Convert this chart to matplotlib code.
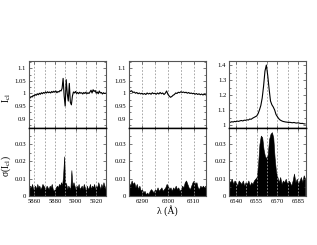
import matplotlib
matplotlib.use('Agg')
import numpy as np
import matplotlib.pyplot as plt
from matplotlib.ticker import MultipleLocator, FuncFormatter

plt.rcParams['font.family'] = ['Liberation Serif', 'DejaVu Serif']
plt.rcParams['mathtext.fontset'] = 'stix'

# Na D region
wl_na = np.arange(5855, 5930, 1)
flux_na = [0.985, 0.982, 0.988, 0.986, 0.992, 0.99, 0.996, 0.993, 0.999, 0.995,
           1.001, 0.997, 1.003, 0.999, 1.004, 1.001, 1.006, 1.002, 1.007, 1.003,
           1.006, 1.002, 1.008, 1.004, 1.009, 1.005, 1.01, 1.003, 1.008, 1.006,
           1.012, 1.01, 1.02, 1.06, 0.99, 0.95, 1.055, 1.0, 0.97, 1.04,
           0.965, 0.955, 0.99, 1.006, 1.002, 1.008, 1.0, 1.004, 0.999, 1.005,
           1.001, 1.003, 0.998, 1.004, 1.0, 1.005, 0.999, 1.003, 1.0, 1.006,
           1.013, 1.002, 1.015, 1.008, 1.012, 1.001, 1.006, 0.999, 1.01, 1.002,
           1.004, 0.998, 1.003, 1.0, 1.001]
sig_na = [0.003, 0.006, 0.005, 0.007, 0.004, 0.005, 0.006, 0.004, 0.007, 0.005,
          0.006, 0.004, 0.005, 0.007, 0.006, 0.005, 0.004, 0.006, 0.005, 0.004,
          0.006, 0.005, 0.007, 0.004, 0.003, 0.004, 0.005, 0.006, 0.005, 0.007,
          0.006, 0.008, 0.006, 0.012, 0.023, 0.008, 0.007, 0.004, 0.006, 0.005,
          0.004, 0.015, 0.006, 0.008, 0.006, 0.004, 0.006, 0.005, 0.007, 0.004,
          0.005, 0.006, 0.004, 0.007, 0.005, 0.003, 0.006, 0.004, 0.005, 0.007,
          0.004, 0.006, 0.005, 0.007, 0.004, 0.006, 0.005, 0.008, 0.006, 0.004,
          0.007, 0.005, 0.008, 0.006, 0.004]

# [OI] 6300 region
wl_oi = np.arange(6285, 6315, 0.5)
flux_oi = [1.013, 1.008, 1.011, 1.004, 1.006, 1.001, 1.004, 0.999, 1.002, 0.998,
           1.001, 0.997, 1.0, 0.996, 1.002, 0.998, 1.001, 0.997, 1.003, 0.999,
           1.001, 0.997, 1.002, 0.998, 1.004, 0.999, 1.002, 0.996, 1.001, 1.01,
           0.997, 0.99, 0.985, 0.988, 0.993, 0.996, 1.002, 1.0, 1.005, 1.003,
           1.007, 1.004, 1.006, 1.003, 1.005, 1.001, 1.004, 1.0, 1.002, 0.999,
           1.001, 0.997, 1.0, 0.996, 0.999, 0.995, 0.998, 0.994, 0.997, 0.995]
sig_oi = [0.008, 0.006, 0.009, 0.007, 0.008, 0.005, 0.007, 0.004, 0.006, 0.003,
          0.004, 0.002, 0.003, 0.001, 0.002, 0.001, 0.003, 0.004, 0.003, 0.002,
          0.004, 0.003, 0.005, 0.003, 0.004, 0.005, 0.003, 0.004, 0.005, 0.007,
          0.006, 0.004, 0.005, 0.003, 0.005, 0.004, 0.006, 0.004, 0.005, 0.003,
          0.004, 0.006, 0.005, 0.008, 0.009, 0.007, 0.005, 0.004, 0.006, 0.008,
          0.009, 0.007, 0.008, 0.005, 0.004, 0.006, 0.005, 0.006, 0.005, 0.006]

# H-alpha region
wl_ha = np.arange(6535, 6591, 1)
flux_ha = [1.02, 1.018, 1.022, 1.02, 1.024, 1.022, 1.026, 1.024, 1.028, 1.03,
           1.027, 1.032, 1.031, 1.035, 1.033, 1.04, 1.038, 1.045, 1.05, 1.055,
           1.06, 1.075, 1.1, 1.13, 1.18, 1.26, 1.36, 1.4, 1.33, 1.24,
           1.16, 1.135, 1.12, 1.1, 1.07, 1.055, 1.042, 1.033, 1.028, 1.024,
           1.022, 1.02, 1.019, 1.017, 1.018, 1.016, 1.015, 1.017, 1.014, 1.013,
           1.015, 1.012, 1.01, 1.011, 1.008, 1.007]
sig_ha = [0.009, 0.008, 0.01, 0.007, 0.009, 0.008, 0.006, 0.009, 0.008, 0.007,
          0.009, 0.006, 0.008, 0.007, 0.009, 0.006, 0.008, 0.007, 0.009, 0.01,
          0.011, 0.018, 0.03, 0.035, 0.034, 0.027, 0.023, 0.022, 0.024, 0.033,
          0.036, 0.037, 0.034, 0.022, 0.014, 0.011, 0.008, 0.011, 0.007, 0.009,
          0.008, 0.01, 0.007, 0.009, 0.008, 0.006, 0.009, 0.013, 0.008, 0.01,
          0.007, 0.009, 0.011, 0.008, 0.012, 0.01]

panels = [
    (wl_na, flux_na, sig_na, (5855, 5929), 20, 10, (0.863, 1.129), 0.05, 0.025),
    (wl_oi, flux_oi, sig_oi, (6285, 6314.5), 10, 5, (0.863, 1.129), 0.05, 0.025),
    (wl_ha, flux_ha, sig_ha, (6535, 6590.3), 15, 7.5, (0.98, 1.427), 0.1, 0.05),
]
lefts = [29 / 317, 129 / 317, 229 / 317]
width = 76.5 / 317

def fmt(v, pos):
    s = f"{v:.3f}".rstrip('0').rstrip('.')
    return s

fig = plt.figure(figsize=(3.17, 2.45), dpi=100)
for i, (wl, fl, sg, xl, xmaj, xmin, yl, ymaj, ymin) in enumerate(panels):
    ax_top = fig.add_axes([lefts[i], 117 / 245, width, 67 / 245])
    ax_bot = fig.add_axes([lefts[i], 49 / 245, width, 68 / 245], sharex=ax_top)

    ax_top.plot(wl, fl, color='k', lw=0.8)
    ax_top.set_ylim(*yl)
    ax_top.yaxis.set_major_locator(MultipleLocator(ymaj))
    ax_top.yaxis.set_minor_locator(MultipleLocator(ymin))

    ax_bot.fill_between(wl, 0, sg, color='k', lw=0.4, edgecolor='k')
    ax_bot.set_ylim(0, 0.0394)
    ax_bot.yaxis.set_major_locator(MultipleLocator(0.01))
    ax_bot.yaxis.set_minor_locator(MultipleLocator(0.005))
    ax_bot.set_xlim(*xl)
    ax_bot.xaxis.set_major_locator(MultipleLocator(xmaj))
    ax_bot.xaxis.set_minor_locator(MultipleLocator(xmin))

    for ax in (ax_top, ax_bot):
        ax.grid(True, which='both', axis='x', color='#999999', ls=(0, (2, 2)), lw=0.6)
        ax.tick_params(which='both', direction='in', top=True, right=True,
                       labelsize=4.8, pad=2, width=0.5, color='#444444')
        ax.tick_params(which='major', length=2.5)
        ax.tick_params(which='minor', length=1.5)
        ax.yaxis.set_major_formatter(FuncFormatter(fmt))
        for sp in ax.spines.values():
            sp.set_color('#555555')
            sp.set_linewidth(0.8)
    ax_top.tick_params(labelbottom=False)
    ax_top.spines['bottom'].set_color('k')
    ax_top.spines['bottom'].set_linewidth(1.0)
    ax_bot.spines['top'].set_color('k')
    ax_bot.spines['top'].set_linewidth(1.0)

fig.text(7 / 317, 1 - 98 / 245, "I$_{\\rm cl}$", rotation=90, fontsize=7, ha='center', va='center')
fig.text(6 / 317, 1 - 166 / 245, "σ(I$_{\\rm cl}$)", rotation=90, fontsize=7, ha='center', va='center')
fig.text(167 / 317, 1 - 211 / 245, "λ (Å)", fontsize=7, ha='center', va='center')

fig.savefig('out.png', dpi=100)
